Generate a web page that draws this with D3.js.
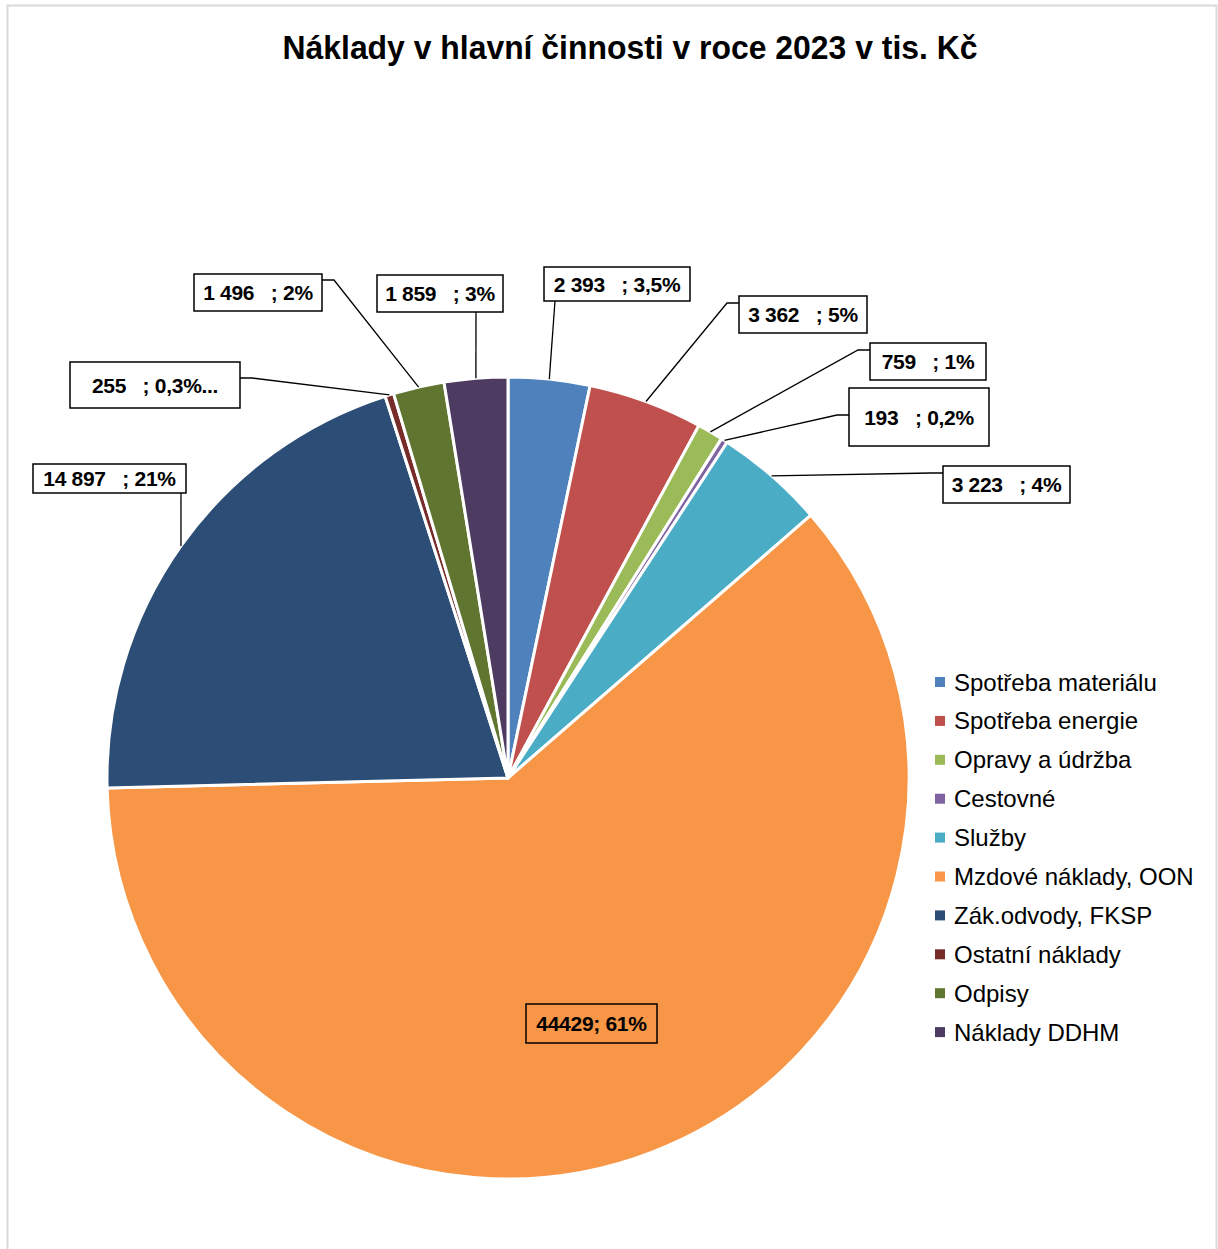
<!DOCTYPE html>
<html>
<head>
<meta charset="utf-8">
<script src="https://cdn.jsdelivr.net/npm/d3@7"></script>
<style>
  body { margin: 0; background: #fff; }
  svg text { font-family: "Liberation Sans", Arial, sans-serif; }
</style>
</head>
<body>
<div id="chart"></div>
<script>
// chart data
const titleText = "Náklady v hlavní činnosti v roce 2023 v tis. Kč";
const categories = ["Spotřeba materiálu", "Spotřeba energie", "Opravy a údržba", "Cestovné", "Služby",
    "Mzdové náklady, OON", "Zák.odvody, FKSP", "Ostatní náklady", "Odpisy", "Náklady DDHM"];
const values = [2393, 3362, 759, 193, 3223, 44429, 14897, 255, 1496, 1859];
const valueLabels = ["2 393", "3 362", "759", "193", "3 223", "44429", "14 897", "255", "1 496", "1 859"];
const percentLabels = ["3,5%", "5%", "1%", "0,2%", "4%", "61%", "21%", "0,3%...", "2%", "3%"];
const colors = ["#4F81BD", "#C0504D", "#9BBB59", "#8064A2", "#4BACC6",
    "#F79646", "#2C4D75", "#772C2A", "#5F7530", "#4D3B62"];

// layout
const width = 1218, height = 1249;
const cx = 508, cy = 778, radius = 401;

// label box layout: box (x, y, w, h) and leader elbow/attach points, null = no leader
const labelLayout = [
    {box: [544, 267, 146, 34], path: [[555, 301]]},
    {box: [739, 296, 128, 37], path: [[727, 303], [739, 303]]},
    {box: [870, 343, 116, 37], path: [[858, 350], [870, 350]]},
    {box: [849, 388, 140, 58], path: [[837, 415], [849, 415]]},
    {box: [943, 466, 127, 37], path: [[931, 473], [943, 473]]},
    {box: [526, 1004, 131, 39], path: null, inside: true},
    {box: [33, 464, 153, 29], path: [[181, 493]]},
    {box: [70, 362, 170, 46], path: [[252, 378], [240, 378]]},
    {box: [194, 274, 128, 37], path: [[334, 280], [322, 280]]},
    {box: [377, 275, 126, 37], path: [[476, 312]]}
];

const svg = d3.select("#chart").append("svg")
    .attr("width", width)
    .attr("height", height);

svg.append("rect")
    .attr("width", width).attr("height", height)
    .attr("fill", "#fff");

// chart area border (runs off the bottom)
svg.append("path")
    .attr("d", `M7.5,${height + 5} V5.5 H1216.5 V${height + 5}`)
    .attr("fill", "none")
    .attr("stroke", "#d9d9d9")
    .attr("stroke-width", 2);

svg.append("text")
    .attr("x", 630)
    .attr("y", 59)
    .attr("text-anchor", "middle")
    .attr("font-size", 33)
    .attr("font-weight", "bold")
    .attr("textLength", 695)
    .attr("lengthAdjust", "spacingAndGlyphs")
    .attr("fill", "#000")
    .text(titleText);

const data = categories.map((c, i) => ({name: c, value: values[i], color: colors[i], i: i}));

const pie = d3.pie().value(d => d.value).sort(null);
const arc = d3.arc().innerRadius(0).outerRadius(radius);
const arcs = pie(data);

const g = svg.append("g").attr("transform", `translate(${cx},${cy})`);

g.selectAll("path.slice")
    .data(arcs)
    .join("path")
    .attr("class", "slice")
    .attr("d", arc)
    .attr("fill", d => d.data.color)
    .attr("stroke", "#fff")
    .attr("stroke-width", 3)
    .attr("stroke-linejoin", "round");

// leader lines
const labels = svg.append("g");
arcs.forEach((a, i) => {
    const lay = labelLayout[i];
    if (lay.path) {
        const mid = (a.startAngle + a.endAngle) / 2;
        const start = [cx + radius * Math.sin(mid), cy - radius * Math.cos(mid)];
        labels.append("path")
            .attr("d", d3.line()([start, ...lay.path]))
            .attr("fill", "none")
            .attr("stroke", "#000")
            .attr("stroke-width", 1.3);
    }
});

// label boxes
arcs.forEach((a, i) => {
    const lay = labelLayout[i];
    const [bx, by, bw, bh] = lay.box;
    labels.append("rect")
        .attr("x", bx).attr("y", by)
        .attr("width", bw).attr("height", bh)
        .attr("fill", lay.inside ? "none" : "#fff")
        .attr("stroke", "#000")
        .attr("stroke-width", 1.5);
    const txt = lay.inside ? valueLabels[i] + "; " + percentLabels[i]
        : valueLabels[i] + "   ; " + percentLabels[i];
    labels.append("text")
        .attr("x", bx + bw / 2)
        .attr("y", by + bh / 2 + 7.5)
        .attr("text-anchor", "middle")
        .attr("font-size", 21)
        .attr("font-weight", "bold")
        .attr("letter-spacing", -0.3)
        .style("white-space", "pre")
        .attr("fill", "#000")
        .text(txt);
});

// legend
const legend = svg.append("g").attr("transform", "translate(935,682)");
const rowH = 38.9;
const items = legend.selectAll("g")
    .data(data)
    .join("g")
    .attr("transform", (d, i) => `translate(0,${i * rowH})`);
items.append("rect")
    .attr("x", 0).attr("y", -5)
    .attr("width", 10).attr("height", 10)
    .attr("fill", d => d.color);
items.append("text")
    .attr("x", 19)
    .attr("y", 8.5)
    .attr("font-size", 24)
    .attr("fill", "#000")
    .text(d => d.name);
</script>
</body>
</html>
